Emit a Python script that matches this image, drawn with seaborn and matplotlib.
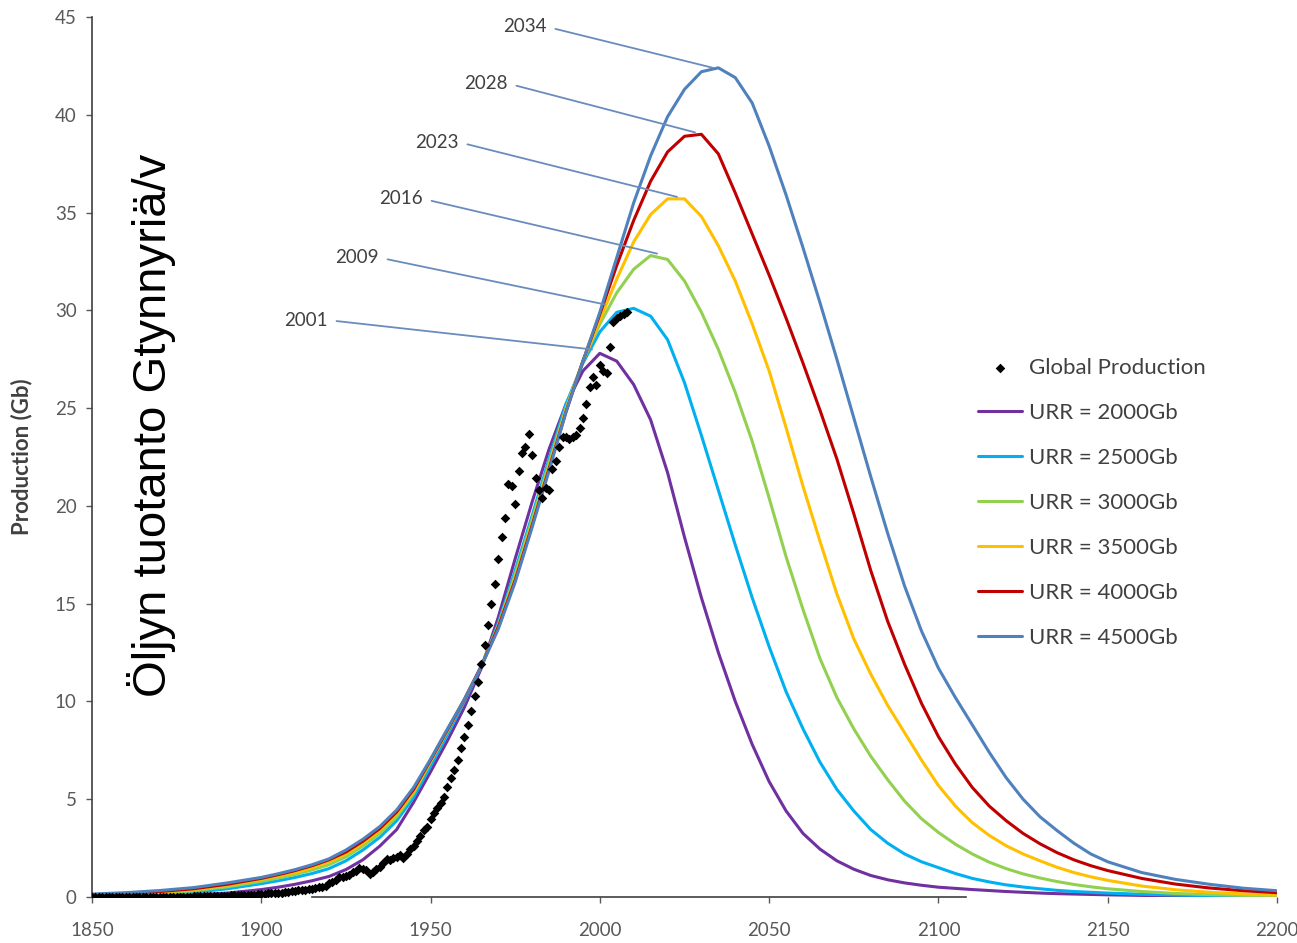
import numpy as np
import pandas as pd
import matplotlib
matplotlib.use("Agg")
import matplotlib.pyplot as plt
import seaborn as sns

# --- data ---
years = ([1850, 1860, 1870, 1880, 1890]
         + list(range(1900, 2151, 5))
         + [2160, 2170, 2180, 2190, 2200])

urr_2000 = [0.02, 0.03, 0.06, 0.11, 0.2,
            0.38, 0.5, 0.65, 0.83, 1.05, 1.4, 1.9, 2.6, 3.45, 4.85,
            6.4, 8.0, 9.7, 11.7, 14.3, 17.3, 20.2, 22.9, 25.2, 26.9,
            27.8, 27.4, 26.2, 24.4, 21.7, 18.4, 15.3, 12.5, 10.0, 7.8,
            5.9, 4.4, 3.25, 2.45, 1.85, 1.42, 1.1, 0.88, 0.72, 0.6,
            0.5, 0.44, 0.38, 0.33, 0.28, 0.24, 0.2, 0.17, 0.15, 0.13,
            0.11,
            0.08, 0.06, 0.04, 0.03, 0.02]
urr_2500 = [0.05, 0.08, 0.14, 0.24, 0.42,
            0.68, 0.83, 1.0, 1.2, 1.45, 1.85, 2.4, 3.05, 3.9, 5.1,
            6.7, 8.3, 10.0, 11.8, 14.0, 16.7, 19.5, 22.4, 25.2, 27.3,
            28.9, 29.9, 30.1, 29.7, 28.5, 26.3, 23.6, 20.8, 18.0, 15.3,
            12.8, 10.5, 8.6, 6.9, 5.5, 4.4, 3.45, 2.75, 2.2, 1.8,
            1.5, 1.2, 0.95, 0.77, 0.62, 0.51, 0.42, 0.34, 0.28, 0.24,
            0.2,
            0.14, 0.1, 0.07, 0.05, 0.04]
urr_3000 = [0.08, 0.12, 0.2, 0.32, 0.52,
            0.8, 0.97, 1.15, 1.38, 1.65, 2.05, 2.6, 3.25, 4.1, 5.3,
            6.9, 8.5, 10.1, 11.8, 13.9, 16.5, 19.3, 22.2, 25.0, 27.4,
            29.3, 30.9, 32.1, 32.8, 32.6, 31.5, 29.9, 28.0, 25.8, 23.3,
            20.4, 17.4, 14.7, 12.2, 10.2, 8.6, 7.2, 6.0, 4.9, 4.0,
            3.3, 2.7, 2.2, 1.78, 1.45, 1.18, 0.97, 0.79, 0.64, 0.52,
            0.42,
            0.28, 0.18, 0.12, 0.08, 0.06]
urr_3500 = [0.1, 0.15, 0.24, 0.38, 0.6,
            0.9, 1.07, 1.25, 1.5, 1.8, 2.2, 2.75, 3.4, 4.25, 5.4,
            6.95, 8.5, 10.1, 11.8, 13.8, 16.3, 19.1, 22.0, 24.9, 27.4,
            29.5, 31.6, 33.5, 34.9, 35.7, 35.7, 34.8, 33.3, 31.5, 29.3,
            26.9, 24.0, 21.0, 18.2, 15.5, 13.2, 11.4, 9.8, 8.4, 7.0,
            5.7, 4.65, 3.8, 3.15, 2.62, 2.2, 1.85, 1.52, 1.25, 1.03,
            0.85,
            0.56, 0.37, 0.24, 0.16, 0.1]
urr_4000 = [0.12, 0.18, 0.28, 0.42, 0.65,
            0.95, 1.14, 1.35, 1.6, 1.9, 2.3, 2.85, 3.5, 4.35, 5.5,
            7.0, 8.55, 10.1, 11.8, 13.8, 16.2, 19.0, 21.9, 24.8, 27.4,
            29.8, 32.3, 34.6, 36.6, 38.1, 38.9, 39.0, 38.0, 36.0, 33.9,
            31.8, 29.6, 27.3, 24.9, 22.4, 19.6, 16.7, 14.1, 11.9, 9.9,
            8.2, 6.8, 5.6, 4.65, 3.9, 3.25, 2.72, 2.27, 1.9, 1.6,
            1.35,
            0.95, 0.66, 0.46, 0.32, 0.22]
urr_4500 = [0.15, 0.22, 0.33, 0.48, 0.72,
            1.0, 1.19, 1.4, 1.65, 1.95, 2.4, 2.95, 3.6, 4.45, 5.6,
            7.05, 8.6, 10.1, 11.8, 13.7, 16.1, 18.9, 21.8, 24.8, 27.4,
            29.9, 32.7, 35.5, 37.9, 39.9, 41.3, 42.2, 42.4, 41.9, 40.6,
            38.4, 35.9, 33.2, 30.4, 27.5, 24.5, 21.5, 18.6, 15.9, 13.6,
            11.7, 10.2, 8.8, 7.4, 6.1, 5.0, 4.1, 3.4, 2.75, 2.2,
            1.8,
            1.25, 0.9, 0.65, 0.45, 0.32]

urr_labels = ["URR = 2000Gb", "URR = 2500Gb", "URR = 3000Gb",
              "URR = 3500Gb", "URR = 4000Gb", "URR = 4500Gb"]
urr_colors = ["#7030a0", "#00b0f0", "#92d050", "#ffc000", "#c00000", "#4f81bd"]

gp_years = list(range(1850, 2009))
gp_values = [0.0, 0.0, 0.0, 0.0, 0.0, 0.0, 0.0, 0.0, 0.0, 0.0,
             0.0, 0.0, 0.01, 0.01, 0.01, 0.01, 0.01, 0.01, 0.01, 0.01,
             0.01, 0.01, 0.01, 0.01, 0.01, 0.01, 0.01, 0.01, 0.01, 0.02,
             0.03, 0.03, 0.03, 0.03, 0.03, 0.04, 0.05, 0.05, 0.06, 0.07,
             0.07, 0.08, 0.08, 0.09, 0.09, 0.10, 0.11, 0.11, 0.12, 0.13,
             0.15, 0.16, 0.18, 0.19, 0.21, 0.21, 0.21, 0.26, 0.28, 0.30,
             0.32, 0.34, 0.35, 0.38, 0.40, 0.43, 0.46, 0.50, 0.50, 0.55,
             0.69, 0.77, 0.86, 1.01, 1.01, 1.07, 1.10, 1.26, 1.32, 1.49,
             1.41, 1.37, 1.20, 1.30, 1.45, 1.55, 1.75, 1.95, 1.90, 2.0,
             2.05, 2.15, 2.00, 2.20, 2.45, 2.60, 2.85, 3.10, 3.40, 3.60,
             4.0, 4.3, 4.55, 4.8, 5.1, 5.6, 6.1, 6.5, 7.0, 7.6,
             8.2, 8.8, 9.5, 10.3, 11.0, 11.9, 12.9, 13.9, 15.0, 16.0,
             17.3, 18.4, 19.4, 21.1, 21.0, 20.1, 21.8, 22.7, 23.0, 23.7,
             22.6, 21.4, 20.8, 20.4, 20.9, 20.8, 21.9, 22.3, 23.0, 23.5,
             23.5, 23.4, 23.5, 23.6, 24.0, 24.5, 25.2, 26.1, 26.6, 26.2,
             27.2, 26.9, 26.8, 28.1, 29.4, 29.6, 29.7, 29.8, 29.9]

# peak annotations: label, peak point, label position
peak_labels = ["2034", "2028", "2023", "2016", "2009", "2001"]
peak_x = [2033.4, 2028.1, 2022.8, 2016.9, 2001.5, 1997.7]
peak_y = [42.4, 39.1, 35.8, 32.9, 30.3, 28.0]
label_x = [1977.9, 1966.4, 1951.9, 1941.3, 1928.3, 1913.2]
label_y = [44.5, 41.6, 38.6, 35.7, 32.7, 29.5]

curves = pd.DataFrame({"Year": years * 6,
                       "Production": urr_2000 + urr_2500 + urr_3000
                       + urr_3500 + urr_4000 + urr_4500,
                       "URR": [lab for lab in urr_labels for _ in years]})
gp = pd.DataFrame({"Year": gp_years, "Production": gp_values})

sns.set_theme(style="white")
plt.rcParams["font.family"] = ["Lato", "DejaVu Sans"]

fig = plt.figure(figsize=(12.97, 9.43), dpi=100)
ax = fig.add_axes([0.0709, 0.0488, 0.9137, 0.9332])

sns.lineplot(data=curves, x="Year", y="Production", hue="URR",
             hue_order=urr_labels, palette=dict(zip(urr_labels, urr_colors)),
             linewidth=2.2, ax=ax)
sns.scatterplot(data=gp, x="Year", y="Production", color="black",
                marker="D", s=24, linewidth=0, label="Global Production",
                zorder=5, ax=ax)

for lab, px, py, lx, ly in zip(peak_labels, peak_x, peak_y, label_x, label_y):
    ax.annotate(lab, xy=(px, py), xytext=(lx, ly), ha="center", va="center",
                fontsize=13.5, color="#404040",
                arrowprops=dict(arrowstyle="-", color="#6a8cbd", lw=1.3,
                                relpos=(1.0, 0.5), shrinkA=4, shrinkB=0))

ax.text(1867.7, 24.1, "Öljyn tuotanto Gtynnyriä/v", rotation=90,
        fontsize=34, family=["Liberation Sans", "DejaVu Sans"],
        ha="center", va="center", color="black")

ax.set_xlim(1850, 2200)
ax.set_ylim(0, 45)
ax.set_xticks(range(1850, 2201, 50))
ax.set_yticks(range(0, 46, 5))
ax.set_xlabel("")
ax.set_ylabel("Production (Gb)", fontsize=16, fontweight="bold", color="#404040")
ax.yaxis.set_label_coords(-0.050, 0.5)

for side in ["top", "right"]:
    ax.spines[side].set_visible(False)
ax.spines["left"].set_color("#404040")
ax.spines["left"].set_linewidth(1.2)
ax.spines["bottom"].set_color("#404040")
ax.spines["bottom"].set_linewidth(1.2)
ax.spines["bottom"].set_bounds(1915, 2108)
ax.tick_params(axis="both", direction="out", length=4, width=1,
               color="#595959", labelcolor="#595959", labelsize=13.5)
ax.tick_params(axis="x", pad=14, bottom=True)
ax.tick_params(axis="y", pad=7, left=True)

handles, labels = ax.get_legend_handles_labels()
order = [labels.index("Global Production")] + [labels.index(l) for l in urr_labels]
leg = ax.legend([handles[i] for i in order], [labels[i] for i in order],
                loc="upper left", bbox_to_anchor=(0.7477, 0.613),
                frameon=False, fontsize=16, handlelength=2.0,
                handletextpad=0.3, labelspacing=1.13, borderpad=0,
                borderaxespad=0, markerscale=1.0)
for t in leg.get_texts():
    t.set_color("#404040")

fig.savefig("out.png", dpi=100, facecolor="white")
